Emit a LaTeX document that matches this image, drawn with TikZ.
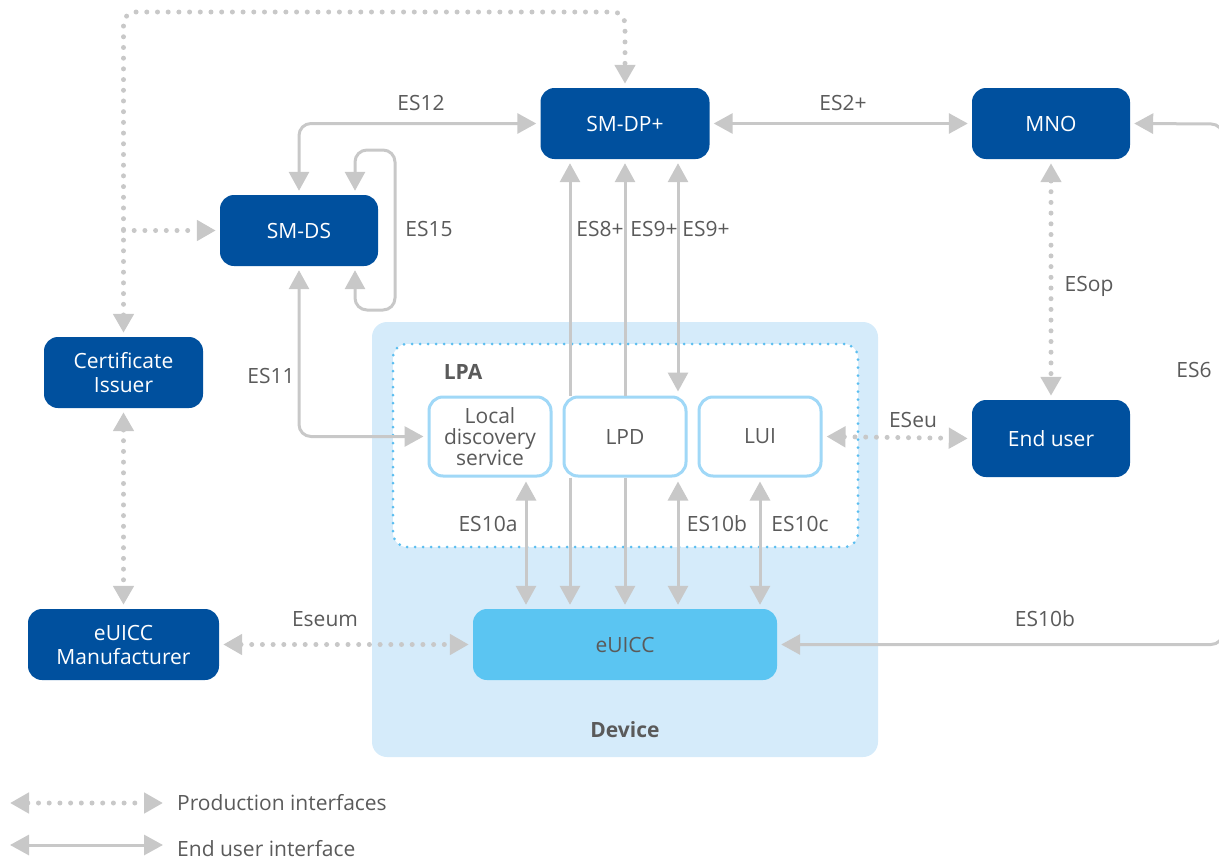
\documentclass[tikz,border=0pt]{standalone}
\usepackage{fontspec}
\setmainfont{Open Sans}
\usetikzlibrary{arrows.meta}
\definecolor{smblue}{RGB}{0,80,158}
\definecolor{chipblue}{RGB}{91,197,242}
\definecolor{devbg}{RGB}{213,235,250}
\definecolor{lpadot}{RGB}{91,190,240}
\definecolor{lpaedge}{RGB}{160,216,247}
\definecolor{argray}{RGB}{200,200,200}
\definecolor{labelgray}{RGB}{90,90,90}
\tikzset{
  entity/.style={fill=smblue, text=white, rounded corners=14pt, minimum height=71pt, inner sep=0pt, align=center},
  lpabox/.style={fill=white, draw=lpaedge, line width=3pt, rounded corners=14pt, minimum width=122pt, minimum height=79pt, inner sep=0pt, align=center, text=labelgray},
  iface/.style={draw=argray, line width=3pt, rounded corners=12pt},
  prod/.style={iface, line width=5pt, line cap=round, dash pattern=on 0pt off 10.7pt},
  tip/.style={-{Triangle[length=19pt,width=20pt]}, shorten >=4pt},
  both/.style={{Triangle[length=19pt,width=20pt]}-{Triangle[length=19pt,width=20pt]}, shorten >=4pt, shorten <=4pt},
  lbl/.style={text=labelgray, inner sep=1pt},
  bold/.style={text=labelgray, font=\fontsize{21}{25}\selectfont\bfseries}
}

\begin{document}
\begin{tikzpicture}[x=1pt, y=-1pt, font=\fontsize{21}{25}\selectfont]
  \useasboundingbox (0,0) rectangle (1219,862);
  % device and LPA frames
  \node[fill=devbg, rounded corners=15pt, minimum width=506pt, minimum height=435pt] (device) at (625,539.5) {};
  \node[fill=white, draw=lpadot, line width=3pt, line cap=round, dash pattern=on 0pt off 8pt, rounded corners=14pt, minimum width=465pt, minimum height=203pt] (lpa) at (625.5,445.5) {};
  \node[bold] (lpatxt) at (463,372) {LPA};
  \node[bold] (devtxt) at (625,730) {Device};

  % entities
  \node[entity, minimum width=169pt] (smdp) at (625,123.5) {SM-DP+};
  \node[entity, minimum width=158pt] (mno) at (1051,123.5) {MNO};
  \node[entity, minimum width=158pt] (smds) at (299,230.5) {SM-DS};
  \node[entity, minimum width=159pt, font=\fontsize{21}{24}\selectfont] (cert) at (123.5,372.5) {Certificate\\Issuer};
  \node[entity, minimum width=191pt, font=\fontsize{21}{24}\selectfont] (manuf) at (123.5,644.5) {eUICC\\Manufacturer};
  \node[entity, minimum width=158pt, minimum height=77pt] (enduser) at (1051,438.5) {End user};
  \node[fill=chipblue, text=labelgray, rounded corners=14pt, minimum width=304pt, minimum height=71pt] (euicc) at (625,644.5) {eUICC};

  % helper coordinates
  \coordinate (ptop) at (625,12);
  \coordinate (pbranch) at (123.5,230.5);
  \coordinate (loopne) at (395,150);
  \coordinate (loopse) at (395,310);
  \coordinate (es8x) at (570,0);
  \coordinate (es9x) at (678,0);
  \coordinate (es10ax) at (526,0);
  \coordinate (rtop) at (1223,124);
  \coordinate (rbot) at (1223,644.5);

  % production interfaces
  \draw[prod, both] (cert.north) |- (ptop) -- (smdp.north);
  \draw[prod, tip] (pbranch) -- (smds.west);
  \draw[prod, both] (cert.south) -- (manuf.north);
  \draw[prod, both] (mno.south) -- (enduser.north);
  \draw[prod, both] (manuf.east) -- (euicc.west);

  % end user interfaces
  \draw[iface, both] (smds.north) |- (smdp.west);
  \draw[iface, both] ([xshift=56pt]smds.north) |- (loopne) -- (loopse) -| ([xshift=56pt]smds.south);
  \draw[iface, both] (smdp.east) -- (mno.west);
  \draw[iface, both] (mno.east) -- (rtop) -- (rbot) -- (euicc.east);

  % LPA boxes
  \node[lpabox, font=\fontsize{21}{21}\selectfont] (lds) at (490,436.5) {Local\\discovery\\service};
  \node[lpabox] (lpd) at (625,436.5) {LPD};
  \node[lpabox] (lui) at (760,436.5) {LUI};

  \draw[prod, both] (lui.east) -- (enduser.west);
  \draw[iface, both] (smds.south) |- (lds.west);
  \draw[iface, tip] (lpd.north -| es8x) -- (smdp.south -| es8x);
  \draw[iface, tip] (lpd.south -| es8x) -- (euicc.north -| es8x);
  \draw[iface, tip] (lpd.north) -- (smdp.south);
  \draw[iface, tip] (lpd.south) -- (euicc.north);
  \draw[iface, both] (smdp.south -| es9x) -- (lpd.north -| es9x);
  \draw[iface, both] (lpd.south -| es9x) -- (euicc.north -| es9x);
  \draw[iface, both] (lds.south -| es10ax) -- (euicc.north -| es10ax);
  \draw[iface, both] (lui.south) -- (euicc.north -| lui.south);

  % interface labels
  \node[lbl] (tes12) at (421,103) {ES12};
  \node[lbl] (tes15) at (429,229) {ES15};
  \node[lbl] (tes11) at (271,376) {ES11};
  \node[lbl] (tes8) at (600,229) {ES8+};
  \node[lbl] (tes9a) at (654,229) {ES9+};
  \node[lbl] (tes9b) at (706,229) {ES9+};
  \node[lbl] (tes2) at (843,103) {ES2+};
  \node[lbl] (tesop) at (1089,286) {ESop};
  \node[lbl] (tes6) at (1194,370) {ES6};
  \node[lbl] (teseu) at (913,420) {ESeu};
  \node[lbl] (tes10a) at (488,524) {ES10a};
  \node[lbl] (tes10b) at (717,524) {ES10b};
  \node[lbl] (tes10c) at (800,524) {ES10c};
  \node[lbl] (teseum) at (325,619) {Eseum};
  \node[lbl] (tes10r) at (1045,619) {ES10b};

  % legend
  \coordinate (lga) at (10,803);
  \coordinate (lgb) at (163,803);
  \coordinate (lgc) at (10,845);
  \coordinate (lgd) at (163,845);
  \draw[prod, both, shorten >=0pt, shorten <=0pt] (lga) -- (lgb);
  \draw[iface, both, shorten >=0pt, shorten <=0pt] (lgc) -- (lgd);
  \node[lbl, anchor=west] (lgtxta) at (176,803) {Production interfaces};
  \node[lbl, anchor=west] (lgtxtb) at (176,849) {End user interface};
\end{tikzpicture}
\end{document}
